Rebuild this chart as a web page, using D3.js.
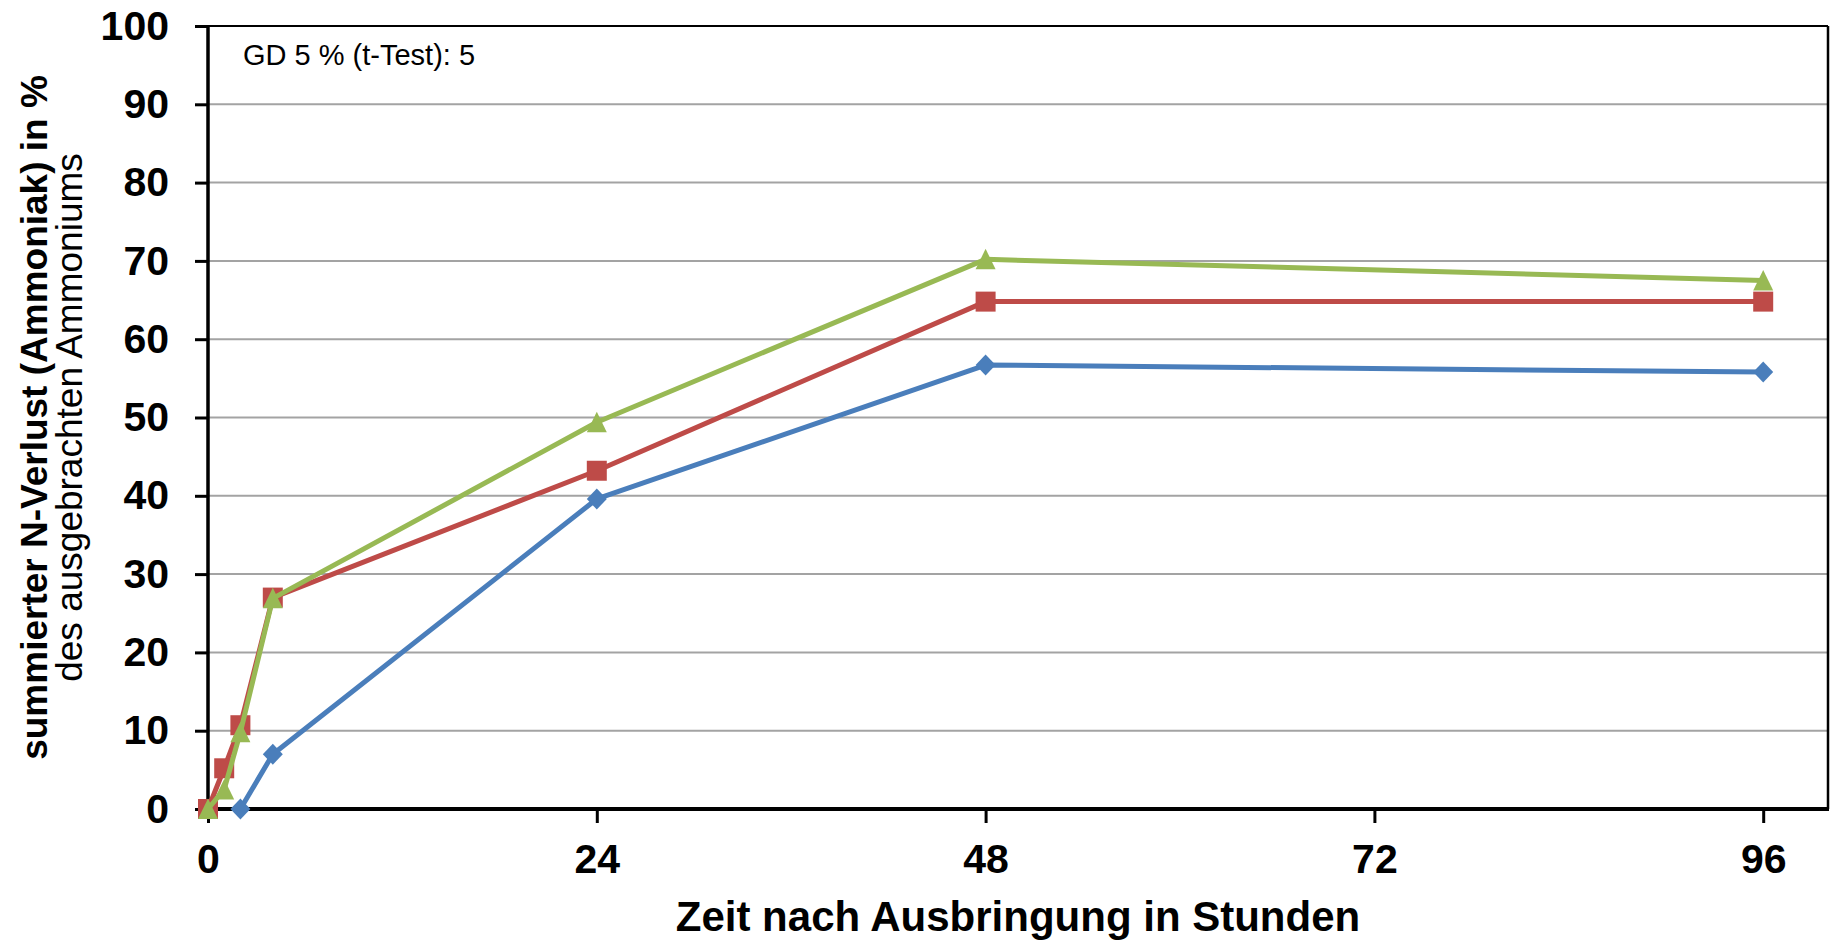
<!DOCTYPE html>
<html>
<head>
<meta charset="utf-8">
<script src="https://cdn.jsdelivr.net/npm/d3@7"></script>
<style>
  body { margin: 0; background: #fff; }
  text { font-family: "Liberation Sans", Arial, sans-serif; }
</style>
</head>
<body>
<div id="chart"></div>
<script>
// hours after application
const hoursBlue = [2, 4, 24, 48, 96];
const valuesBlue = [0, 7.0, 39.6, 56.7, 55.8];
const hoursRed = [0, 1, 2, 4, 24, 48, 96];
const valuesRed = [0, 5.2, 10.7, 27.0, 43.2, 64.8, 64.8];
const hoursGreen = [0, 1, 2, 4, 24, 48, 96];
const valuesGreen = [0, 2.5, 9.8, 26.9, 49.4, 70.2, 67.5];

const xTicks = [0, 24, 48, 72, 96];
const yTicks = [0, 10, 20, 30, 40, 50, 60, 70, 80, 90, 100];

const xTitle = "Zeit nach Ausbringung in Stunden";
const yTitle1 = "summierter N-Verlust (Ammoniak) in %";
const yTitle2 = "des ausgebrachten Ammoniums";
const note = "GD 5 % (t-Test): 5";

const width = 1836;
const height = 942;
const margin = { top: 26, right: 8, bottom: 133, left: 208 };

const svg = d3.select("#chart").append("svg")
    .attr("width", width)
    .attr("height", height);

const x = d3.scaleLinear()
    .domain([0, 100])
    .range([margin.left, width - margin.right]);

const y = d3.scaleLinear()
    .domain([0, 100])
    .range([height - margin.bottom, margin.top]);

// gridlines
svg.append("g")
    .selectAll("line")
    .data(yTicks.filter(d => d > 0 && d < 100))
    .enter().append("line")
    .attr("x1", x(0)).attr("x2", x(100))
    .attr("y1", d => y(d)).attr("y2", d => y(d))
    .attr("stroke", "#a3a3a3")
    .attr("stroke-width", 2);

// box top / right
svg.append("line")
    .attr("x1", x(0)).attr("x2", x(100))
    .attr("y1", y(100)).attr("y2", y(100))
    .attr("stroke", "#000").attr("stroke-width", 2);
svg.append("line")
    .attr("x1", x(100)).attr("x2", x(100))
    .attr("y1", y(100)).attr("y2", y(0))
    .attr("stroke", "#000").attr("stroke-width", 2.5);

const yAxis = svg.append("g")
    .attr("transform", "translate(" + x(0) + ",0)")
    .call(d3.axisLeft(y).tickValues(yTicks).tickSize(13).tickPadding(26));

const xAxis = svg.append("g")
    .attr("transform", "translate(0," + y(0) + ")")
    .call(d3.axisBottom(x).tickValues(xTicks).tickSize(14).tickPadding(21));

[yAxis, xAxis].forEach(g => {
    g.select(".domain").remove();
    g.selectAll(".tick line").attr("stroke", "#000").attr("stroke-width", 3);
    g.selectAll(".tick text")
        .attr("fill", "#000")
        .style("font-size", "41px")
        .style("font-weight", "bold");
});

// axis lines
svg.append("line")
    .attr("x1", x(0)).attr("x2", x(0))
    .attr("y1", y(100)).attr("y2", y(0) + 2)
    .attr("stroke", "#000").attr("stroke-width", 3.5);
svg.append("line")
    .attr("x1", x(0) - 1.5).attr("x2", x(100) + 1)
    .attr("y1", y(0)).attr("y2", y(0))
    .attr("stroke", "#000").attr("stroke-width", 4);

// series
const series = [
    { hours: hoursBlue, values: valuesBlue, color: "#4a7ebb", shape: "diamond" },
    { hours: hoursRed, values: valuesRed, color: "#be4b48", shape: "square" },
    { hours: hoursGreen, values: valuesGreen, color: "#98b954", shape: "triangle" }
];

const line = d3.line()
    .x(d => x(d[0]))
    .y(d => y(d[1]));

function markerPath(shape) {
    const p = d3.path();
    if (shape === "square") {
        p.rect(-10, -10, 20, 20);
    } else if (shape === "diamond") {
        p.moveTo(0, -10.5); p.lineTo(10, 0); p.lineTo(0, 10.5); p.lineTo(-10, 0); p.closePath();
    } else {
        p.moveTo(0, -10.5); p.lineTo(10, 10); p.lineTo(-10, 10); p.closePath();
    }
    return p.toString();
}

series.forEach(s => {
    const pts = s.hours.map((h, i) => [h, s.values[i]]);
    const g = svg.append("g");
    g.append("path")
        .datum(pts)
        .attr("d", line)
        .attr("fill", "none")
        .attr("stroke", s.color)
        .attr("stroke-width", 5)
        .attr("stroke-linejoin", "round");
    g.selectAll(".m")
        .data(pts)
        .enter().append("path")
        .attr("transform", d => "translate(" + x(d[0]) + "," + y(d[1]) + ")")
        .attr("d", markerPath(s.shape))
        .attr("fill", s.color);
});

// note
svg.append("text")
    .attr("x", 243)
    .attr("y", 65)
    .style("font-size", "29px")
    .text(note);

// x title
svg.append("text")
    .attr("x", (x(0) + x(100)) / 2)
    .attr("y", 931)
    .attr("text-anchor", "middle")
    .style("font-size", "42px")
    .style("font-weight", "bold")
    .text(xTitle);

// y titles
const yMid = (y(0) + y(100)) / 2;
svg.append("text")
    .attr("transform", "translate(47," + yMid + ") rotate(-90)")
    .attr("text-anchor", "middle")
    .style("font-size", "37px")
    .style("font-weight", "bold")
    .text(yTitle1);
svg.append("text")
    .attr("transform", "translate(82," + yMid + ") rotate(-90)")
    .attr("text-anchor", "middle")
    .style("font-size", "37px")
    .text(yTitle2);
</script>
</body>
</html>
